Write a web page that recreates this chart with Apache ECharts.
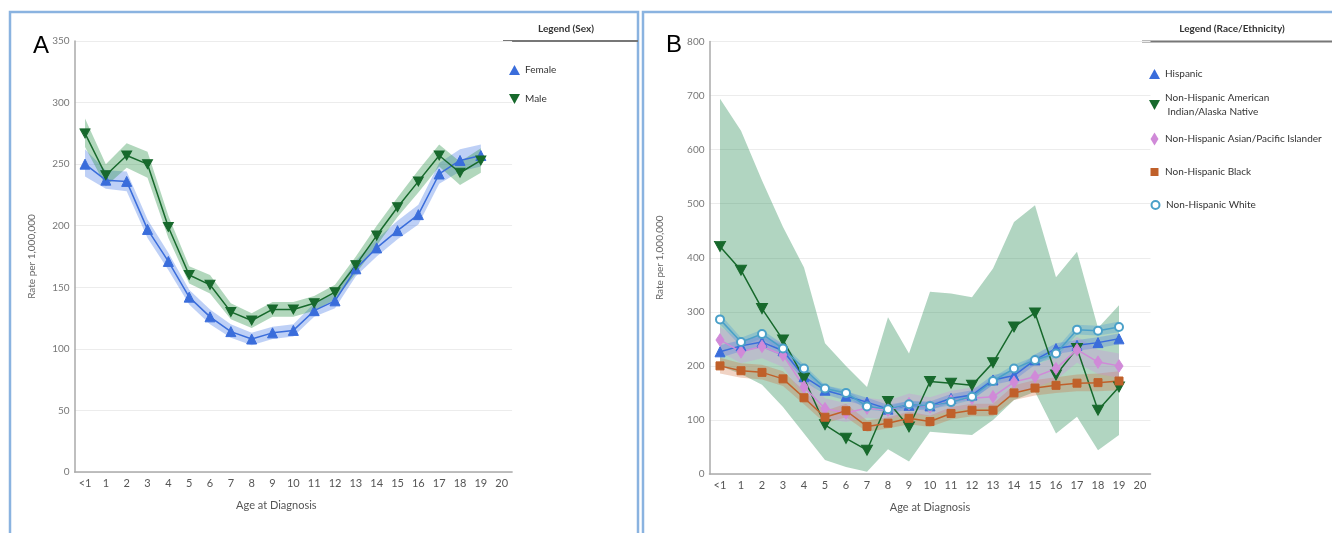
<!DOCTYPE html>
<html>
<head>
<meta charset="utf-8">
<script src="https://cdn.jsdelivr.net/npm/echarts@6/dist/echarts.min.js"></script>
<style>
  html, body { margin: 0; padding: 0; background: #fff; }
  #chart { width: 1332px; height: 533px; }
</style>
</head>
<body>
<div id="chart"></div>
<script>
var chart = echarts.init(document.getElementById('chart'));

// x categories
var ages = ['<1', '1', '2', '3', '4', '5', '6', '7', '8', '9', '10', '11', '12', '13', '14', '15', '16', '17', '18', '19', '20'];

// Panel A - Sex
var femaleRate = [250, 237, 236, 197, 171, 142, 126, 114, 108, 113, 115, 131, 139, 165, 182, 196, 209, 242, 253, 257];
var femaleLow  = [240, 230, 228, 190, 164, 136, 120, 109, 103, 108, 110, 126, 133, 159, 175, 189, 201, 234, 244, 248];
var femaleHigh = [262, 245, 244, 205, 178, 148, 132, 120, 113, 118, 120, 137, 145, 172, 189, 204, 217, 251, 262, 266];
var maleRate = [275, 241, 257, 250, 199, 160, 152, 130, 123, 132, 132, 137, 146, 168, 192, 215, 236, 257, 243, 253];
var maleLow  = [264, 232, 247, 239, 190, 153, 145, 124, 117, 126, 126, 131, 140, 161, 184, 207, 227, 248, 233, 243];
var maleHigh = [287, 250, 267, 260, 208, 167, 160, 137, 129, 138, 138, 143, 152, 175, 200, 223, 245, 266, 252, 263];

// Panel B - Race/Ethnicity
var hispRate = [226, 237, 244, 228, 180, 155, 144, 133, 120, 127, 126, 140, 146, 174, 182, 211, 232, 238, 243, 250];
var hispLow  = [215, 227, 234, 218, 171, 147, 136, 125, 113, 119, 118, 132, 138, 165, 173, 202, 222, 228, 233, 240];
var hispHigh = [238, 248, 255, 239, 190, 164, 153, 141, 128, 135, 134, 148, 155, 183, 191, 221, 242, 248, 253, 260];
var aianRate = [421, 377, 306, 248, 177, 91, 66, 44, 134, 87, 171, 168, 164, 206, 272, 298, 183, 232, 118, 161];
var aianLow  = [200, 185, 165, 124, 75, 26, 13, 4, 46, 23, 78, 75, 72, 100, 137, 152, 75, 106, 44, 72];
var aianHigh = [694, 635, 543, 457, 382, 242, 200, 161, 290, 223, 337, 334, 327, 380, 466, 497, 364, 411, 270, 312];
var asianRate = [248, 226, 236, 220, 161, 121, 113, 122, 118, 130, 124, 135, 140, 143, 170, 180, 195, 230, 207, 200];
var asianLow  = [226, 205, 214, 198, 142, 103, 96, 104, 101, 112, 107, 117, 121, 124, 150, 160, 174, 206, 185, 178];
var asianHigh = [272, 248, 258, 243, 181, 140, 131, 141, 136, 149, 142, 154, 160, 163, 191, 201, 217, 254, 230, 223];
var blackRate = [200, 191, 188, 176, 141, 105, 117, 88, 94, 103, 97, 112, 118, 118, 150, 159, 164, 168, 169, 172];
var blackLow  = [186, 178, 175, 163, 129, 94, 105, 78, 84, 92, 87, 101, 107, 107, 137, 145, 150, 153, 153, 155];
var blackHigh = [215, 205, 202, 190, 154, 117, 130, 99, 105, 115, 108, 124, 130, 130, 164, 174, 179, 184, 186, 190];
var whiteRate = [286, 244, 259, 232, 195, 158, 150, 125, 120, 129, 126, 133, 143, 172, 195, 211, 223, 267, 265, 272];
var whiteLow  = [277, 236, 251, 224, 188, 152, 144, 119, 115, 123, 120, 127, 137, 165, 188, 204, 215, 258, 256, 262];
var whiteHigh = [296, 252, 267, 240, 202, 164, 156, 131, 126, 135, 132, 139, 149, 179, 202, 218, 231, 276, 274, 282];

var DOWN_TRI = 'path://M0,0L10,0L5,9Z';
var fontFam = 'Lato, "DejaVu Sans", sans-serif';

// confidence band as stacked area: invisible lower + (high-low) filled
function band(id, low, high, color, axis) {
    return [{
        type: 'line', stack: id, data: low, xAxisIndex: axis, yAxisIndex: axis,
        symbol: 'none', lineStyle: { opacity: 0 }, silent: true, z: 1
    }, {
        type: 'line', stack: id, xAxisIndex: axis, yAxisIndex: axis,
        data: high.map(function (h, i) { return h - low[i]; }),
        symbol: 'none', lineStyle: { opacity: 0 }, silent: true, z: 1,
        areaStyle: { color: color, opacity: 1 }
    }];
}

function rateLine(name, data, color, symbol, size, axis) {
    return {
        type: 'line', name: name, data: data, xAxisIndex: axis, yAxisIndex: axis,
        symbol: symbol, symbolSize: size, z: 3,
        itemStyle: { color: color, borderColor: color },
        lineStyle: { color: color, width: 1.5 }
    };
}

function xAx(idx) {
    return {
        type: 'category', gridIndex: idx, data: ages, boundaryGap: true,
        name: 'Age at Diagnosis', nameLocation: 'middle', nameGap: 28,
        nameTextStyle: { color: '#555', fontSize: 11, fontFamily: fontFam, padding: idx === 0 ? [0, 34, 0, 0] : 0 },
        axisLine: { lineStyle: { color: '#aaa', width: 1.5 } },
        axisTick: { alignWithLabel: true, length: 4, lineStyle: { color: '#888' } },
        axisLabel: { color: '#555', fontSize: 11, fontFamily: fontFam, margin: 6, interval: 0 },
        splitLine: { show: false }
    };
}

function yAx(idx, max, interval, gap) {
    return {
        type: 'value', gridIndex: idx, min: 0, max: max, interval: interval,
        name: 'Rate per 1,000,000', nameLocation: 'middle', nameGap: gap,
        nameTextStyle: { color: '#666', fontSize: 10, fontFamily: fontFam },
        axisLine: { show: true, lineStyle: { color: '#aaa', width: 1.5 } },
        axisTick: { show: false },
        axisLabel: { color: '#777', fontSize: 10, fontFamily: fontFam, margin: 5 },
        splitLine: { lineStyle: { color: '#ececec' } }
    };
}

var seriesList = [].concat(
    band('bF', femaleLow, femaleHigh, 'rgba(70,120,230,0.35)', 0),
    band('bM', maleLow, maleHigh, 'rgba(50,150,80,0.38)', 0),
    [rateLine('Female', femaleRate, '#3a6ddb', 'triangle', 10, 0),
     rateLine('Male', maleRate, '#17692c', DOWN_TRI, [10, 9], 0)],
    band('bA', aianLow, aianHigh, 'rgba(60,150,100,0.4)', 1),
    band('bB', blackLow, blackHigh, 'rgba(205,110,60,0.3)', 1),
    band('bS', asianLow, asianHigh, 'rgba(210,140,225,0.3)', 1),
    band('bH', hispLow, hispHigh, 'rgba(70,120,230,0.3)', 1),
    band('bW', whiteLow, whiteHigh, 'rgba(80,160,215,0.35)', 1),
    [rateLine('Hispanic', hispRate, '#3a6ddb', 'triangle', 10, 1),
     rateLine('Non-Hispanic American Indian/Alaska Native', aianRate, '#17692c', DOWN_TRI, [11, 10], 1),
     rateLine('Non-Hispanic Asian/Pacific Islander', asianRate, '#d08ad8', 'diamond', [8, 12], 1),
     rateLine('Non-Hispanic Black', blackRate, '#c0602a', 'rect', 8, 1),
     rateLine('Non-Hispanic White', whiteRate, '#4aa0c8', 'emptyCircle', 8, 1)]
);

var legendB = [
    { name: 'Hispanic', icon: 'triangle', top: 62, w: 11, h: 10 },
    { name: 'Non-Hispanic American Indian/Alaska Native', icon: DOWN_TRI, top: 86, w: 11, h: 10 },
    { name: 'Non-Hispanic Asian/Pacific Islander', icon: 'diamond', top: 127, w: 8, h: 13 },
    { name: 'Non-Hispanic Black', icon: 'rect', top: 160, w: 8, h: 8 },
    { name: 'Non-Hispanic White', icon: 'emptyCircle', top: 193, w: 8, h: 8 }
];

var legends = [{
    data: [{ name: 'Female', icon: 'triangle' }, { name: 'Male', icon: DOWN_TRI }],
    orient: 'vertical', left: 504, top: 60, itemGap: 19, itemWidth: 11, itemHeight: 10,
    textStyle: { color: '#333', fontSize: 10, fontFamily: fontFam }
}];
legendB.forEach(function (it) {
    legends.push({
        data: [{ name: it.name, icon: it.icon }],
        orient: 'vertical', left: 1144 + (11 - it.w) / 2, top: it.top, itemWidth: it.w, itemHeight: it.h,
        itemGap: 0,
        textStyle: { color: '#333', fontSize: 10, fontFamily: fontFam, lineHeight: 14, padding: [0, 0, 0, (11 - it.w) / 2] },
        formatter: function (n) {
            return n === 'Non-Hispanic American Indian/Alaska Native' ? 'Non-Hispanic American\n Indian/Alaska Native' : n;
        }
    });
});

var option = {
    animation: false,
    backgroundColor: '#fff',
    grid: [
        { left: 74.6, top: 41, width: 437.5, height: 431 },
        { left: 709.5, top: 41.5, width: 441, height: 432.5 }
    ],
    xAxis: [xAx(0), xAx(1)],
    yAxis: [yAx(0, 350, 50, 38), yAx(1, 800, 100, 45)],
    legend: legends,
    graphic: [
        { type: 'rect', shape: { x: 10, y: 12, width: 628, height: 540 }, style: { fill: 'none', stroke: '#8ab3e0', lineWidth: 2.5 } },
        { type: 'rect', shape: { x: 643, y: 12, width: 720, height: 540 }, style: { fill: 'none', stroke: '#8ab3e0', lineWidth: 2.5 } },
        { type: 'text', left: 33, top: 34, style: { text: 'A', fill: '#000', font: '24px "Liberation Sans", Arial' } },
        { type: 'text', left: 666, top: 33, style: { text: 'B', fill: '#000', font: '24px "Liberation Sans", Arial' } },
        { type: 'text', x: 566, y: 29, style: { text: 'Legend (Sex)', align: 'center', verticalAlign: 'middle', fill: '#333', font: 'bold 10px ' + fontFam } },
        { type: 'line', shape: { x1: 503, y1: 41, x2: 638, y2: 41 }, style: { stroke: '#777', lineWidth: 2 } },
        { type: 'text', x: 1232, y: 29, style: { text: 'Legend (Race/Ethnicity)', align: 'center', verticalAlign: 'middle', fill: '#333', font: 'bold 10px ' + fontFam } },
        { type: 'line', shape: { x1: 1142, y1: 41.5, x2: 1332, y2: 41.5 }, style: { stroke: '#777', lineWidth: 2 } }
    ],
    series: seriesList
};

chart.setOption(option);
</script>
</body>
</html>
